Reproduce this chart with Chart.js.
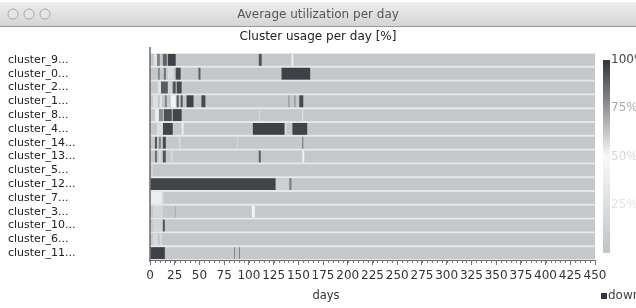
<!DOCTYPE html>
<html>
<head>
<meta charset="utf-8">
<script src="https://cdn.jsdelivr.net/npm/chart.js@4.4.0/dist/chart.umd.min.js"></script>
<style>
html, body { margin: 0; padding: 0; background: #fff; }
</style>
</head>
<body>
<canvas id="usageCanvas" width="636" height="308"></canvas>
<script>
// Window and chart texts
const windowTitle = 'Average utilization per day';
const chartTitle = 'Cluster usage per day [%]';
const xTitle = 'days';
const downLabel = 'down';

// Rows, top to bottom
const clusters = ['cluster_9...', 'cluster_0...', 'cluster_2...', 'cluster_1...', 'cluster_8...',
    'cluster_4...', 'cluster_14...', 'cluster_13...', 'cluster_5...', 'cluster_12...',
    'cluster_7...', 'cluster_3...', 'cluster_10...', 'cluster_6...', 'cluster_11...'];

const totalDays = 450;
const baseUsage = 4;          // usage of the plain gray background
const colorbarTicks = [100, 75, 50, 25];

// Runs of usage per row: [first day, last day, usage %]
const usageRuns = [
    [[4, 7, 30], [7, 10, 80], [13, 17, 88], [18, 26, 97], [110, 113, 92], [143, 145, 40]],
    [[8, 10, 78], [14, 16, 85], [18, 24, 22], [26, 31, 95], [49, 51, 90], [133, 162, 97]],
    [[8, 11, 30], [11, 18, 90], [18, 22, 60], [23, 26, 92], [27, 32, 95]],
    [[3, 8, 25], [10, 12, 30], [15, 17, 80], [21, 26, 48], [27, 29, 90], [31, 33, 92], [37, 44, 97], [52, 56, 95], [140, 141, 78], [146, 147, 80], [151, 155, 95]],
    [[5, 9, 40], [9, 13, 78], [14, 22, 93], [23, 32, 96], [110, 111, 25], [154, 155, 35]],
    [[7, 13, 25], [13, 23, 96], [32, 34, 40], [104, 136, 97], [137, 138, 30], [144, 159, 96]],
    [[5, 7, 92], [9, 11, 80], [13, 16, 95], [29, 31, 20], [88, 89, 20], [154, 155, 85]],
    [[5, 7, 85], [9, 11, 25], [13, 16, 92], [21, 23, 20], [110, 112, 90], [154, 156, 45]],
    [[0, 3, 15]],
    [[0, 127, 96], [127, 140, 12], [141, 143, 82]],
    [[0, 12, 40], [12, 14, 20]],
    [[3, 13, 18], [25, 26, 70], [103, 106, 45]],
    [[3, 12, 15], [13, 15, 92]],
    [[3, 8, 20], [10, 12, 20]],
    [[0, 15, 97], [85, 86, 80], [90, 91, 80]]
];

// gray (0%) -> white (50%) -> dark (100%)
function usageColor(u) {
    const gray = [192, 196, 199], white = [247, 248, 249], dark = [50, 53, 57];
    let a, b, t;
    if (u <= 50) { a = gray; b = white; t = u / 50; }
    else { a = white; b = dark; t = (u - 50) / 50; }
    const c = a.map((v, i) => Math.round(v + (b[i] - v) * t));
    return `rgb(${c[0]},${c[1]},${c[2]})`;
}

// Build the datasets: a full background bar per row (drawn first), then one dataset per run index
const datasets = [{
    data: clusters.map(() => [0, totalDays]),
    backgroundColor: usageColor(baseUsage),
    order: 1
}];
const maxRuns = Math.max(...usageRuns.map(r => r.length));
for (let k = 0; k < maxRuns; k++) {
    datasets.push({
        data: usageRuns.map(r => r[k] ? [r[k][0], r[k][1]] : null),
        backgroundColor: usageRuns.map(r => r[k] ? usageColor(r[k][2]) : 'transparent'),
        order: 0
    });
}
datasets.forEach(ds => {
    ds.grouped = false;
    ds.borderWidth = 0;
    ds.borderSkipped = false;
    ds.barPercentage = 0.86;
    ds.categoryPercentage = 1;
});

const font = '"DejaVu Sans", sans-serif';

const decorations = {
    id: 'decorations',
    beforeDraw(chart) {
        const ctx = chart.ctx;
        ctx.save();
        ctx.fillStyle = '#fff';
        ctx.fillRect(0, 0, chart.width, chart.height);
        // window title bar
        const g = ctx.createLinearGradient(0, 0, 0, 26);
        g.addColorStop(0, '#f0f0f0');
        g.addColorStop(1, '#d4d4d4');
        ctx.fillStyle = g;
        ctx.fillRect(0, 2, chart.width, 24);
        ctx.strokeStyle = '#9a9a9a';
        ctx.beginPath();
        ctx.moveTo(0, 26.5);
        ctx.lineTo(chart.width, 26.5);
        ctx.stroke();
        [13, 29, 45].forEach(cx => {
            ctx.beginPath();
            ctx.arc(cx, 14, 5, 0, Math.PI * 2);
            ctx.fillStyle = '#e4e4e4';
            ctx.fill();
            ctx.strokeStyle = '#aaa';
            ctx.stroke();
        });
        ctx.fillStyle = '#555';
        ctx.font = '12px ' + font;
        ctx.textAlign = 'center';
        ctx.textBaseline = 'middle';
        ctx.fillText(windowTitle, 318, 15);
        ctx.fillStyle = '#222';
        ctx.fillText(chartTitle, 318, 37);
        ctx.restore();
    },
    beforeDatasetsDraw(chart) {
        const a = chart.chartArea;
        const ctx = chart.ctx;
        ctx.save();
        ctx.fillStyle = '#e6e8ea';
        ctx.fillRect(a.left, a.top, a.right - a.left, a.bottom - a.top);
        ctx.restore();
    },
    afterDraw(chart) {
        const ctx = chart.ctx;
        const a = chart.chartArea;
        const xs = chart.scales.x;
        ctx.save();
        // y axis line
        ctx.strokeStyle = '#666';
        ctx.lineWidth = 1.5;
        ctx.beginPath();
        ctx.moveTo(a.left, 47);
        ctx.lineTo(a.left, a.bottom + 2);
        ctx.stroke();
        // minor ticks
        ctx.lineWidth = 1;
        ctx.strokeStyle = '#777';
        ctx.beginPath();
        for (let d = 0; d <= totalDays; d += 5) {
            const x = Math.round(xs.getPixelForValue(d)) + 0.5;
            ctx.moveTo(x, a.bottom);
            ctx.lineTo(x, a.bottom + 3);
        }
        ctx.stroke();
        // colour bar
        const top = 60, bottom = 253, bx = 603, bw = 7;
        const g = ctx.createLinearGradient(0, top, 0, bottom);
        for (let u = 100; u >= 0; u -= 10) g.addColorStop((100 - u) / 100, usageColor(u));
        ctx.fillStyle = g;
        ctx.fillRect(bx, top, bw, bottom - top);
        ctx.font = '12px ' + font;
        ctx.textAlign = 'left';
        ctx.textBaseline = 'middle';
        const labelColors = ['#444', '#aaa', '#d8d8d8', '#e4e4e4'];
        colorbarTicks.forEach((u, i) => {
            ctx.fillStyle = labelColors[i];
            ctx.fillText(u + '%', bx + bw + 1, top + (100 - u) / 100 * (bottom - top));
        });
        // "down" legend
        ctx.fillStyle = usageColor(100);
        ctx.fillRect(601, 293, 6, 6);
        ctx.fillStyle = '#444';
        ctx.fillText(downLabel, 608, 296);
        // x axis title
        ctx.textAlign = 'center';
        ctx.fillStyle = '#333';
        ctx.font = '11.5px ' + font;
        ctx.fillText(xTitle, 326, 296);
        ctx.restore();
    }
};

new Chart(document.getElementById('usageCanvas').getContext('2d'), {
    type: 'bar',
    data: { labels: clusters, datasets: datasets },
    options: {
        indexAxis: 'y',
        responsive: false,
        animation: false,
        layout: { padding: { top: 53, left: 8, right: 41, bottom: 0 } },
        plugins: { legend: { display: false }, tooltip: { enabled: false }, title: { display: false } },
        scales: {
            x: {
                type: 'linear',
                min: 0,
                max: totalDays,
                afterFit: s => { s.height = 48; },
                ticks: {
                    stepSize: 25,
                    autoSkip: false,
                    maxRotation: 0,
                    padding: 4,
                    color: '#333',
                    font: { family: font, size: 12 }
                },
                grid: { display: true, drawOnChartArea: false, tickLength: 5, color: '#777' },
                border: { display: true, color: '#666' }
            },
            y: {
                type: 'category',
                afterFit: s => { s.width = 142; },
                ticks: {
                    autoSkip: false,
                    crossAlign: 'far',
                    padding: 0,
                    color: '#222',
                    font: { family: font, size: 11 }
                },
                grid: { display: false },
                border: { display: false }
            }
        }
    },
    plugins: [decorations]
});
</script>
</body>
</html>
